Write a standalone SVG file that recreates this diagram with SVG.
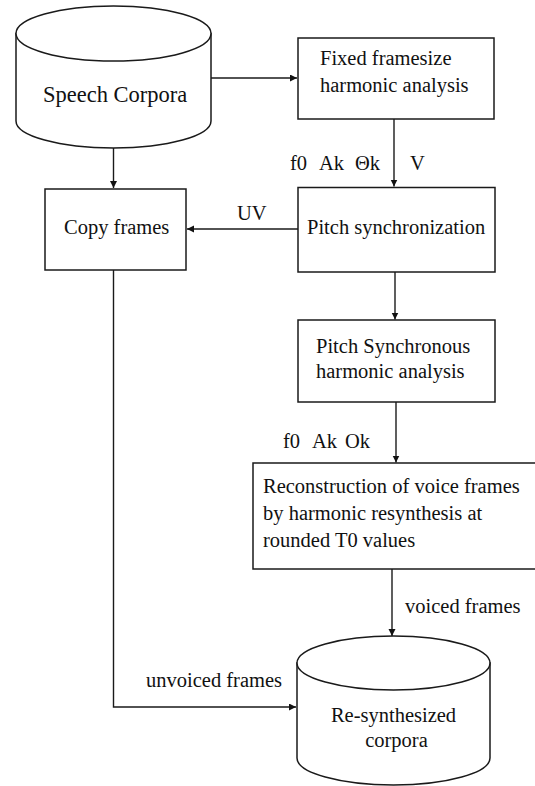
<svg xmlns="http://www.w3.org/2000/svg" width="535" height="786" viewBox="0 0 535 786">
  <style>
    .shape { fill: #ffffff; stroke: #1a1a1a; stroke-width: 1.5; }
    .line { fill: none; stroke: #1a1a1a; stroke-width: 1.4; }
    .lbl { font-size: 20.5px; fill: #111111; }
    .big { font-size: 22.5px; }
  </style>
  <defs>
    <marker id="arrow" markerUnits="userSpaceOnUse" markerWidth="8" markerHeight="8" refX="7" refY="3.5" orient="auto">
      <path d="M0,0 L7,3.5 L0,7 z" fill="#111111"/>
    </marker>
  </defs>
  <rect width="535" height="786" fill="#ffffff"/>

  <g font-family="Liberation Serif, Tinos, Noto Serif, DejaVu Serif, Times, serif">
  <!-- connectors -->
  <g id="connectors">
    <path class="line" d="M211,78 L297,78" marker-end="url(#arrow)"/>
    <path class="line" d="M113.5,148 L113.5,188" marker-end="url(#arrow)"/>
    <path class="line" d="M394,119 L394,186.5" marker-end="url(#arrow)"/>
    <path class="line" d="M298,229 L187,229" marker-end="url(#arrow)"/>
    <path class="line" d="M395,272 L395,319.5" marker-end="url(#arrow)"/>
    <path class="line" d="M396,402 L396,462.5" marker-end="url(#arrow)"/>
    <path class="line" d="M392,569 L392,636" marker-end="url(#arrow)"/>
    <path class="line" d="M113.5,270 L113.5,707 L296,707" marker-end="url(#arrow)"/>
    <text class="lbl" x="290" y="170"><tspan x="290">f0</tspan><tspan x="319">Ak</tspan><tspan x="355">Θk</tspan></text>
    <text class="lbl" x="410" y="170">V</text>
    <text class="lbl" x="237" y="220">UV</text>
    <text class="lbl" x="283" y="448"><tspan x="283">f0</tspan><tspan x="312">Ak</tspan><tspan x="345">Ok</tspan></text>
    <text class="lbl" x="405" y="613">voiced frames</text>
    <text class="lbl" x="146" y="687">unvoiced frames</text>
  </g>

  <!-- source corpus -->
  <g id="speech-corpora">
    <path class="shape" d="M16,33.5 L16,121 A97.5,27 0 0 0 211,121 L211,33.5 Z"/>
    <ellipse class="shape" cx="113.5" cy="33.5" rx="97.5" ry="27.5"/>
    <text class="lbl big" x="43" y="102">Speech Corpora</text>
  </g>

  <g id="fixed-analysis">
    <rect class="shape" x="298" y="38" width="196" height="81"/>
    <text class="lbl" x="320" y="65">Fixed framesize</text>
    <text class="lbl" x="320" y="92">harmonic analysis</text>
  </g>

  <g id="copy-frames">
    <rect class="shape" x="45" y="189" width="141" height="81"/>
    <text class="lbl" x="64" y="234">Copy frames</text>
  </g>

  <g id="pitch-sync">
    <rect class="shape" x="298" y="187.5" width="197" height="84.5"/>
    <text class="lbl" x="307" y="234">Pitch synchronization</text>
  </g>

  <g id="pitch-sync-analysis">
    <rect class="shape" x="298" y="320" width="197" height="82"/>
    <text class="lbl" x="316" y="353">Pitch Synchronous</text>
    <text class="lbl" x="316" y="378">harmonic analysis</text>
  </g>

  <g id="reconstruction">
    <rect class="shape" x="253" y="463" width="290" height="106"/>
    <text class="lbl" x="263" y="493">Reconstruction of voice frames</text>
    <text class="lbl" x="263" y="520">by harmonic resynthesis at</text>
    <text class="lbl" x="263" y="547">rounded T0 values</text>
  </g>

  <!-- output corpus -->
  <g id="resynthesized-corpora">
    <path class="shape" d="M297,663 L297,758 A96.5,27 0 0 0 490,758 L490,663 Z"/>
    <ellipse class="shape" cx="393.5" cy="663" rx="96.5" ry="27"/>
    <text class="lbl" x="393.5" y="722" text-anchor="middle">Re-synthesized</text>
    <text class="lbl" x="396.5" y="747" text-anchor="middle">corpora</text>
  </g>
  </g>
</svg>
